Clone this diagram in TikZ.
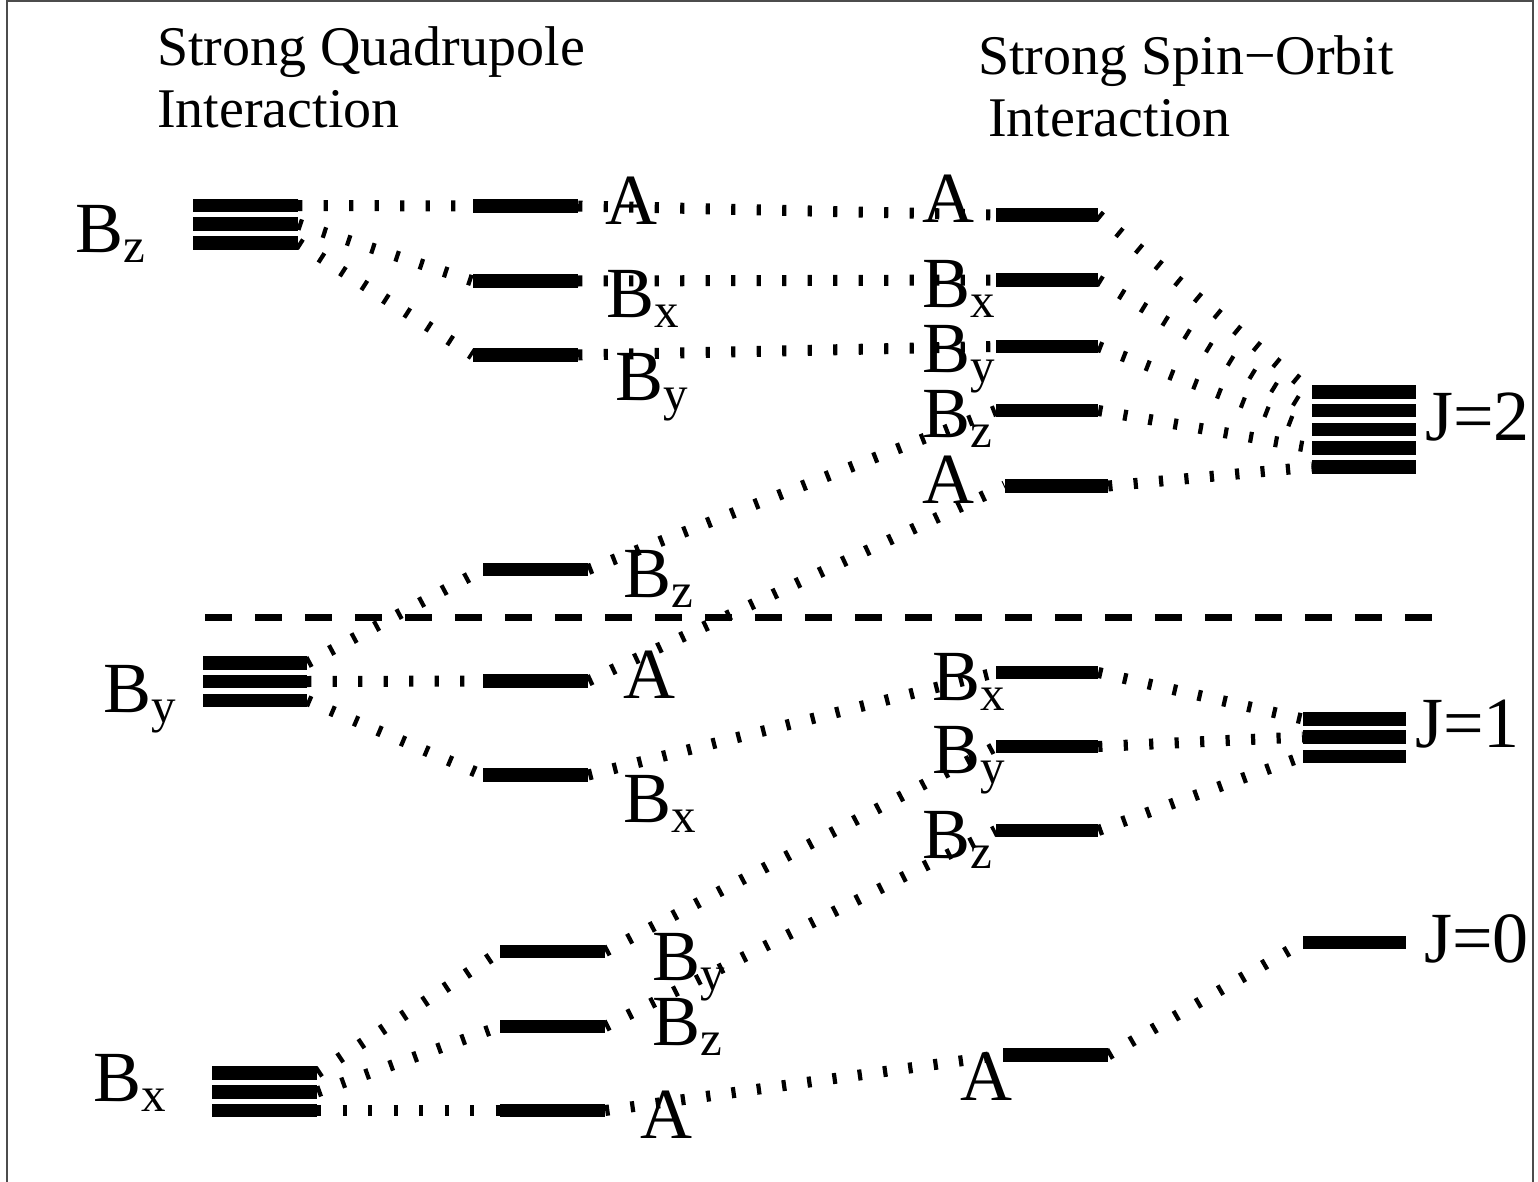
\documentclass[tikz,border=0pt]{standalone}
\usepackage{fontspec}
\setmainfont{Liberation Serif}
\newcommand\lsub[1]{\raisebox{-10pt}{\fontsize{49}{49}\selectfont #1}}
\begin{document}
\begin{tikzpicture}[x=1pt,y=-1pt,
  lvl/.style={fill=black, draw=none, inner sep=0pt, minimum height=13.5pt, minimum width=#1},
  lvl/.default=105pt,
  conn/.style={line width=11pt, dash pattern=on 4.2pt off 21.3pt},
  lab/.style={anchor=base west, inner sep=0pt, font=\fontsize{72}{72}\selectfont},
  ttl/.style={anchor=base west, inner sep=0pt, font=\fontsize{56}{56}\selectfont}]
\useasboundingbox (0,0) rectangle (1538,1182);
\draw[line width=2pt, black!70] (7,1) rectangle (1533,1200);

% titles
\node[ttl] (t1) at (157,66) {Strong Quadrupole};
\node[ttl] (t2) at (157,128) {Interaction};
\node[ttl] (t3) at (978,75) {Strong Spin−Orbit};
\node[ttl] (t4) at (988,137) {Interaction};

% column 1 stacks
\node[lvl] (zt1) at (245.5,205.5) {};
\node[lvl] (zt2) at (245.5,224) {};
\node[lvl] (zt3) at (245.5,243) {};
\node[lvl=104pt] (yt1) at (255,663) {};
\node[lvl=104pt] (yt2) at (255,681.5) {};
\node[lvl=104pt] (yt3) at (255,700.5) {};
\node[lvl] (xt1) at (264.5,1073) {};
\node[lvl] (xt2) at (264.5,1092) {};
\node[lvl] (xt3) at (264.5,1110.5) {};

% column 2
\node[lvl] (a1) at (525.5,206) {};
\node[lvl] (bx1) at (525.5,281) {};
\node[lvl] (by1) at (525.5,355) {};
\node[lvl] (bz2m) at (535.5,569.5) {};
\node[lvl] (a2m) at (535.5,681) {};
\node[lvl] (bx2m) at (535.5,775) {};
\node[lvl] (by2b) at (552.5,951.5) {};
\node[lvl] (bz2b) at (552.5,1026.5) {};
\node[lvl] (a2b) at (552.5,1110.5) {};

% column 3
\node[lvl=102pt] (a3) at (1047,215) {};
\node[lvl=102pt] (bx3) at (1047,280) {};
\node[lvl=102pt] (by3) at (1047,346.5) {};
\node[lvl=102pt] (bz3) at (1047,410.5) {};
\node[lvl=103pt] (a3l) at (1056.5,486) {};
\node[lvl=102pt] (bx3m) at (1047,672.5) {};
\node[lvl=102pt] (by3m) at (1047,746.5) {};
\node[lvl=102pt] (bz3m) at (1047,830.5) {};
\node[lvl=105pt] (a3b) at (1055.5,1055) {};

% column 4
\node[lvl=104pt] (j2a) at (1364,392) {};
\node[lvl=104pt] (j2b) at (1364,410.5) {};
\node[lvl=104pt] (j2c) at (1364,429.5) {};
\node[lvl=104pt] (j2d) at (1364,448) {};
\node[lvl=104pt] (j2e) at (1364,467) {};
\node[lvl=103pt] (j1a) at (1354.5,719) {};
\node[lvl=103pt] (j1b) at (1354.5,737) {};
\node[lvl=103pt] (j1c) at (1354.5,756.5) {};
\node[lvl=103pt] (j0) at (1354.5,942.5) {};

% dashed separator
\draw[line width=7pt, dash pattern=on 27pt off 23pt] (205,617) -- (1432,617);

% connectors
\draw[conn] (zt1.east) -- (a1.west);
\draw[conn] (zt2.east) -- (bx1.west);
\draw[conn] (zt3.east) -- (by1.west);
\draw[conn] (a1.east) -- (a3.west);
\draw[conn] (bx1.east) -- (bx3.west);
\draw[conn] (by1.east) -- (by3.west);
\draw[conn] (a3.east) -- (j2a.west);
\draw[conn] (bx3.east) -- (j2b.west);
\draw[conn] (by3.east) -- (j2c.west);
\draw[conn] (bz3.east) -- (j2d.west);
\draw[conn] (a3l.east) -- (j2e.west);

\draw[conn] (yt1.east) -- (bz2m.west);
\draw[conn] (yt2.east) -- (a2m.west);
\draw[conn] (yt3.east) -- (bx2m.west);
\draw[conn] (bz2m.east) -- (bz3.west);
\draw[conn] (a2m.east) -- (a3l.west);
\draw[conn] (bx2m.east) -- (bx3m.west);
\draw[conn] (bx3m.east) -- (j1a.west);
\draw[conn] (by3m.east) -- (j1b.west);
\draw[conn] (bz3m.east) -- (j1c.west);

\draw[conn] (xt1.east) -- (by2b.west);
\draw[conn] (xt2.east) -- (bz2b.west);
\draw[conn] (xt3.east) -- (a2b.west);
\draw[conn] (by2b.east) -- (by3m.west);
\draw[conn] (bz2b.east) -- (bz3m.west);
\draw[conn] (a2b.east) -- (a3b.west);
\draw[conn] (a3b.east) -- (j0.west);

% labels column 1
\node[lab] (lz1) at (75,252) {B\lsub{z}};
\node[lab] (ly1) at (103,712) {B\lsub{y}};
\node[lab] (lx1) at (93,1101) {B\lsub{x}};
% labels column 2
\node[lab] (la2a) at (605,225) {A};
\node[lab] (lx2a) at (606,317) {B\lsub{x}};
\node[lab] (ly2a) at (615,400) {B\lsub{y}};
\node[lab] (lz2m) at (623,597) {B\lsub{z}};
\node[lab] (la2m) at (623,698) {A};
\node[lab] (lx2m) at (623,822) {B\lsub{x}};
\node[lab] (ly2b) at (652,980) {B\lsub{y}};
\node[lab] (lz2b) at (652,1045) {B\lsub{z}};
\node[lab] (la2b) at (640,1138) {A};
% labels column 3
\node[lab] (la3) at (922,223) {A};
\node[lab] (lx3) at (922,307) {B\lsub{x}};
\node[lab] (ly3) at (922,372) {B\lsub{y}};
\node[lab] (lz3) at (922,437) {B\lsub{z}};
\node[lab] (la3l) at (922,503) {A};
\node[lab] (lx3m) at (932,700) {B\lsub{x}};
\node[lab] (ly3m) at (932,773) {B\lsub{y}};
\node[lab] (lz3m) at (922,858) {B\lsub{z}};
\node[lab] (la3b) at (960,1100) {A};
% labels column 4
\node[lab] (lj2) at (1425,440) {J=2};
\node[lab] (lj1) at (1415,747) {J=1};
\node[lab] (lj0) at (1424,962) {J=0};
\end{tikzpicture}
\end{document}
